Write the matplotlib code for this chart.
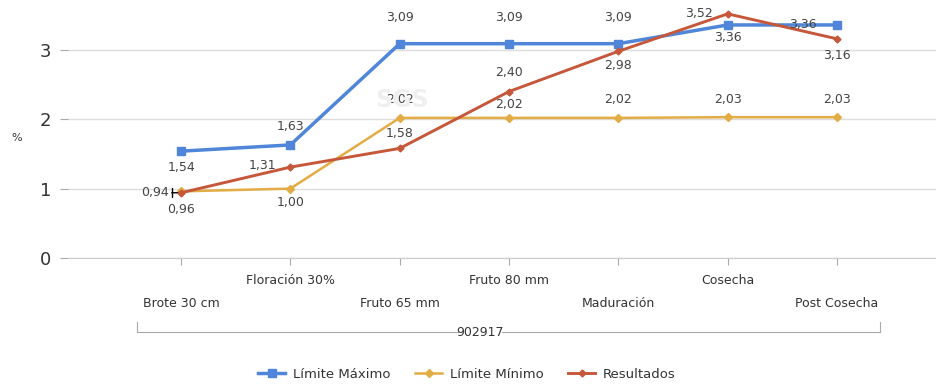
import matplotlib.pyplot as plt
import numpy as np

# stages sampled for lot 902917
stages = ['Brote 30 cm', 'Floración 30%', 'Fruto 65 mm', 'Fruto 80 mm',
          'Maduración', 'Cosecha', 'Post Cosecha']
group = '902917'
lim_max = [1.54, 1.63, 3.09, 3.09, 3.09, 3.36, 3.36]
lim_min = [0.96, 1.00, 2.02, 2.02, 2.02, 2.03, 2.03]
results = [0.94, 1.31, 1.58, 2.40, 2.98, 3.52, 3.16]

c_max = '#4f86d9'
c_min = '#e3ac45'
c_res = '#c6573a'
c_txt = '#444444'

plt.rcParams['font.family'] = ['DejaVu Sans']

fig = plt.figure(figsize=(9.37, 3.85), dpi=100)
ax = fig.add_axes([0.0726, 0.330, 0.9274, 0.670])

x = np.arange(len(stages))
ax.plot(x, lim_max, color=c_max, lw=2.5, marker='s', ms=5.5, zorder=3,
        label='Límite Máximo')
ax.plot(x, lim_min, color=c_min, lw=1.8, marker='D', ms=4, zorder=2,
        label='Límite Mínimo')
ax.plot(x, results, color=c_res, lw=2.1, marker='D', ms=3.5, zorder=4,
        label='Resultados')

ax.set_xlim(-1.034, 6.915)
ax.set_ylim(0, 3.72)
ax.set_yticks([0, 1, 2, 3])
ax.set_yticklabels(['0', '1', '2', '3'], fontsize=13, color='#333333')
ax.grid(axis='y', color='#dddddd', lw=1)
ax.set_axisbelow(True)
for s in ['top', 'right', 'left']:
    ax.spines[s].set_visible(False)
ax.spines['bottom'].set_color('#cccccc')
ax.tick_params(axis='y', length=6, color='#aaaaaa', pad=6)
ax.tick_params(axis='x', length=5, color='#aaaaaa', direction='out')
ax.set_xticks(x)
ax.set_xticklabels([])

# staggered category labels
for i, name in enumerate(stages):
    dy = -23 if i % 2 else -46
    ax.annotate(name, (i, 0), xytext=(0, dy), textcoords='offset pixels',
                ha='center', va='center', fontsize=9, color='#333333',
                annotation_clip=False)

# group bracket under the categories
fig.text(480 / 937, 1 - 332 / 385, group, ha='center', va='center',
         fontsize=9, color='#333333')
bx0, bx1, by = 137 / 937, 880 / 937, 1 - 332 / 385
fig.add_artist(plt.Line2D([bx0, 458 / 937], [by, by], color='#aaaaaa', lw=0.8))
fig.add_artist(plt.Line2D([502 / 937, bx1], [by, by], color='#aaaaaa', lw=0.8))
for bx in (bx0, bx1):
    fig.add_artist(plt.Line2D([bx, bx], [by, by + 10 / 385], color='#aaaaaa', lw=0.8))

fig.text(17 / 937, 1 - 138 / 385, '%', ha='center', va='center',
         fontsize=8, color='#333333')

# faint watermark
fig.text(402 / 937, 1 - 100 / 385, 'SGS', ha='center', va='center',
         fontsize=17, color='#efefef', fontweight='bold', zorder=0)


def lab(xi, val, dx, dy):
    ax.annotate(f'{val:.2f}'.replace('.', ','), (xi, val), xytext=(dx, dy),
                textcoords='offset pixels', ha='center', va='center',
                fontsize=9, color=c_txt, zorder=6)


# upper limit labels
lab(0, lim_max[0], 0, -16)
lab(1, lim_max[1], 0, 18)
lab(2, lim_max[2], 0, 26)
lab(3, lim_max[3], 0, 26)
lab(4, lim_max[4], 0, 26)
lab(5, lim_max[5], 0, -13)
lab(6, lim_max[6], -34, 0)

# lower limit labels
lab(0, lim_min[0], 0, -18)
lab(1, lim_min[1], 0, -14)
lab(2, lim_min[2], 0, 18)
lab(3, lim_min[3], 0, 13)
lab(4, lim_min[4], 0, 18)
lab(5, lim_min[5], 0, 18)
lab(6, lim_min[6], 0, 18)

# result labels
ax.annotate(f'{results[0]:.2f}'.replace('.', ','), (0, results[0]),
            xytext=(-26, 0), textcoords='offset pixels', ha='center',
            va='center', fontsize=9, color=c_txt,
            arrowprops=dict(arrowstyle='|-|, widthA=0.35, widthB=0.0',
                            color='black', lw=1, shrinkA=10, shrinkB=0))
lab(1, results[1], -28, 2)
lab(2, results[2], 0, 15)
lab(3, results[3], 0, 19)
lab(4, results[4], 0, -14)
lab(5, results[5], -29, 0)
lab(6, results[6], 0, -17)

fig.legend(loc='center', bbox_to_anchor=(467 / 937, 1 - 374 / 385), ncol=3,
           frameon=False, fontsize=9.5, handlelength=2.0, columnspacing=1.9,
           handletextpad=0.6, labelcolor='#333333')

fig.savefig('out.png', dpi=100)
